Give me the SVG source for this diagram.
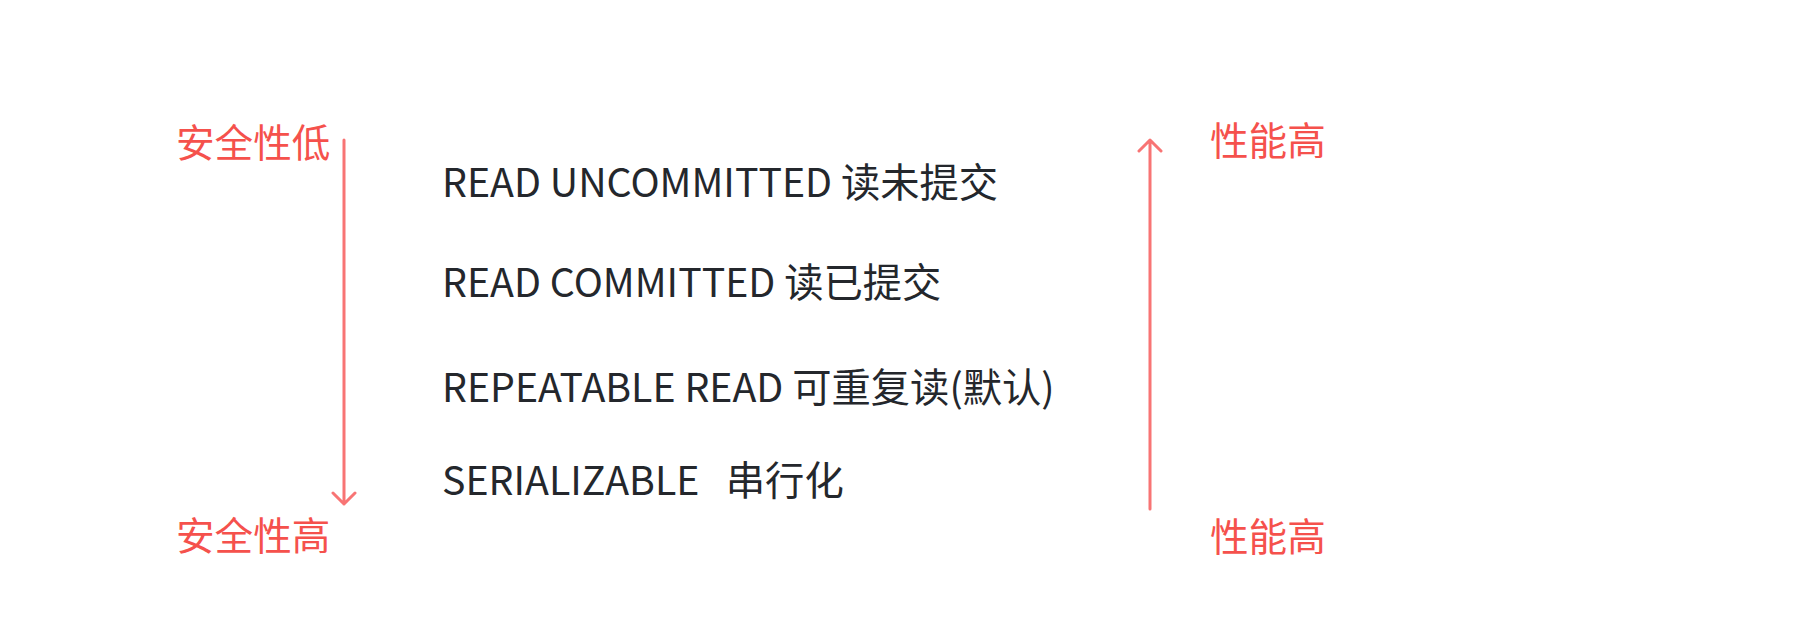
<svg xmlns="http://www.w3.org/2000/svg" width="1804" height="644" viewBox="0 0 1804 644">
<style>
.lbl{font-family:"Noto Sans CJK SC","Noto Sans",sans-serif;font-size:38.6px;fill:#f5514c}
.lvl{font-family:"Noto Sans CJK SC","Noto Sans",sans-serif;font-size:39.3px;fill:#24272c;white-space:pre}
.arr{stroke:#f87474;stroke-width:3;fill:none;stroke-linecap:round;stroke-linejoin:round}
</style>
<rect width="1804" height="644" fill="#ffffff"/>
<g id="connectors">
<path class="arr" d="M344 140 V504 M333 493 L344 504 L355 493"/>
<path class="arr" d="M1150 509 V140 M1139 151 L1150 140 L1161 151"/>
</g>
<g id="label-safety-low"><text class="lbl" x="176" y="157">安全性低</text></g>
<g id="label-safety-high"><text class="lbl" x="176" y="550">安全性高</text></g>
<g id="label-perf-top"><text class="lbl" x="1210" y="155">性能高</text></g>
<g id="label-perf-bottom"><text class="lbl" x="1210" y="551">性能高</text></g>
<g id="level-1"><text class="lvl" x="442" y="197">READ UNCOMMITTED 读未提交</text></g>
<g id="level-2"><text class="lvl" x="442" y="297">READ COMMITTED 读已提交</text></g>
<g id="level-3"><text class="lvl" x="442" y="402">REPEATABLE READ 可重复读(默认)</text></g>
<g id="level-4"><text class="lvl" x="442" y="495" xml:space="preserve">SERIALIZABLE   串行化</text></g>
</svg>
